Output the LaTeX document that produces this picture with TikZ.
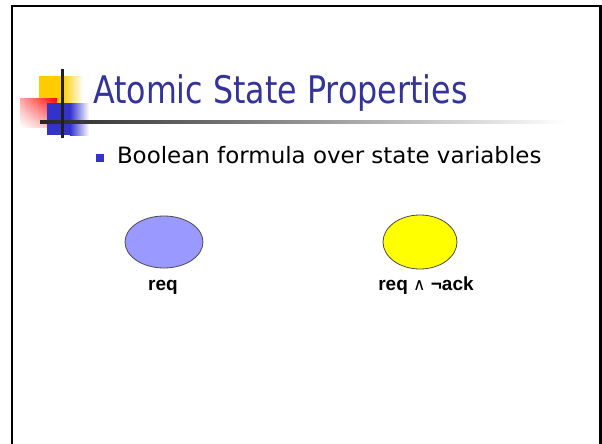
\documentclass[tikz,border=0pt]{standalone}
\usepackage{fontspec}
\usetikzlibrary{shapes.geometric,shadings}
\setmainfont{DejaVu Sans}
\newfontfamily\tahfont[FakeStretch=0.835]{DejaVu Sans}
\newfontfamily\tahbody[FakeStretch=1.02]{DejaVu Sans}
\newfontfamily\arialfont{Liberation Sans}
\newfontfamily\symfont{DejaVu Sans}
\definecolor{titleblue}{HTML}{333399}
\definecolor{logoyellow}{HTML}{FFCC00}
\definecolor{logoblue}{HTML}{3333CC}
\definecolor{ellblue}{HTML}{9999FF}
\definecolor{ellyellow}{HTML}{FFFF00}
\begin{document}
\begin{tikzpicture}[x=1pt,y=-1pt,
  txt/.style={inner sep=0pt,outer sep=0pt,anchor=base west},
  lab/.style={inner sep=0pt,outer sep=0pt,anchor=base,font=\arialfont\bfseries\fontsize{19}{22}\selectfont},
  state/.style={ellipse,draw=black!70,line width=0.8pt,inner sep=0pt}]
\useasboundingbox (0,0) rectangle (602,444);
\fill[white] (0,0) rectangle (602,444);
% frame
\draw[line width=2.5pt,black] (12,446) -- (12,6) -- (600.5,6) -- (600.5,446);
% logo
\fill[logoyellow] (39,76) rectangle (62,103);
\shade[left color=logoyellow,right color=white] (61.9,76) rectangle (83,103);
\shade[shading=bilinear interpolation,upper right=red,lower left=white,upper left=red!35,lower right=red!30] (20,98) rectangle (57,127);
\fill[logoblue] (47,103) rectangle (70,135);
\shade[left color=logoblue,right color=white] (69.9,103) rectangle (89,135);
\shade[left color=black!85,right color=white] (40,120.2) rectangle (565,123.2);
\fill[black!88] (60.8,69) rectangle (63.8,138);
% title
\node[txt,font=\tahfont\fontsize{38}{44}\selectfont,text=titleblue] (title) at (93,103) {Atomic State Properties};
% bullet
\fill[logoblue] (96,154) rectangle (104,162);
\node[txt,font=\tahbody\fontsize{22.5}{27}\selectfont] (body) at (117,163.3) {Boolean formula over state variables};
% states
\node[state,fill=ellblue,minimum width=78pt,minimum height=52pt] (s1) at (164,242) {};
\node[state,fill=ellyellow,minimum width=74pt,minimum height=54pt] (s2) at (420,242) {};
\node[lab] (l1) at (163,290) {req};
\node[lab] (l2) at (426,290) {req {\symfont\mdseries\fontsize{17}{19}\selectfont ∧} ¬ack};
\end{tikzpicture}
\end{document}
